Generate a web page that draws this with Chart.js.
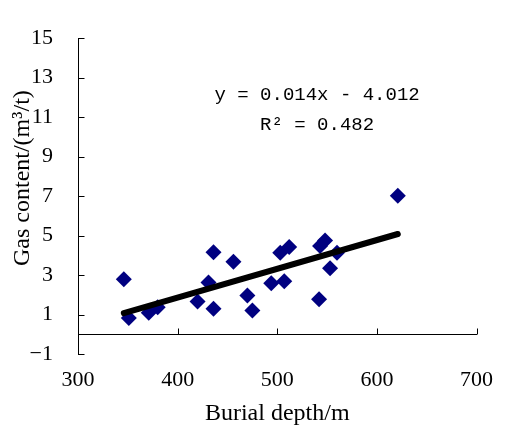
<!DOCTYPE html>
<html>
<head>
<meta charset="utf-8">
<script src="https://cdn.jsdelivr.net/npm/chart.js@4/dist/chart.umd.min.js"></script>
<style>
  html, body { margin: 0; padding: 0; background: #ffffff; }
  #wrap { width: 506px; height: 428px; }
</style>
</head>
<body>
<div id="wrap"><canvas id="c" width="506" height="428"></canvas></div>
<script>
// ---- data ----
const depth = [346, 351, 371, 380, 420, 431, 436, 436, 456, 470, 475, 494, 503, 507, 512, 542, 543, 548, 553, 560, 621];
const gas   = [2.79, 0.82, 1.09, 1.37, 1.66, 2.62, 4.15, 1.29, 3.68, 1.96, 1.20, 2.58, 4.13, 2.68, 4.42, 1.78, 4.47, 4.75, 3.35, 4.13, 7.02];
const trendDepth = [346, 621];
const trendGas   = [1.07, 5.08];
const xTicks = [300, 400, 500, 600, 700];
const yTicks = [-1, 1, 3, 5, 7, 9, 11, 13, 15];
const equationLines = ['y = 0.014x - 4.012', 'R\u00B2 = 0.482'];
const xTitle = 'Burial depth/m';
const yTitle = 'Gas content/(m\u00B3/t)';

// ---- layout / style ----
const eqAnchor = { x: 540, y: [12.1, 10.6] };   // text anchor in data units
const serif = 'Liberation Serif, Times New Roman, serif';

const axisDecor = {
  id: 'axisDecor',
  beforeDatasetsDraw(chart) {
    const { ctx, scales: { x, y } } = chart;
    ctx.save();
    ctx.strokeStyle = '#000';
    ctx.lineWidth = 1;
    const y0 = Math.round(y.getPixelForValue(0)) + 0.5;
    const xl = x.getPixelForValue(xTicks[0]);
    const xr = x.getPixelForValue(xTicks[xTicks.length - 1]);
    ctx.beginPath();
    ctx.moveTo(xl, y0); ctx.lineTo(xr + 0.5, y0);
    xTicks.slice(1).forEach(v => {
      const px = Math.round(x.getPixelForValue(v)) + 0.5;
      ctx.moveTo(px, y0); ctx.lineTo(px, y0 - 6);
    });
    const ax = Math.round(x.getPixelForValue(xTicks[0])) + 0.5;
    yTicks.forEach(v => {
      const py = Math.round(y.getPixelForValue(v)) + 0.5;
      ctx.moveTo(ax, py); ctx.lineTo(ax + 6, py);
    });
    ctx.stroke();
    ctx.restore();
  },
  afterDatasetsDraw(chart) {
    const { ctx, scales: { x, y } } = chart;
    ctx.save();
    ctx.fillStyle = '#000';
    ctx.font = '19px "Liberation Mono", monospace';
    ctx.textAlign = 'center';
    ctx.textBaseline = 'middle';
    equationLines.forEach((t, i) => {
      ctx.fillText(t, x.getPixelForValue(eqAnchor.x), y.getPixelForValue(eqAnchor.y[i]));
    });
    ctx.restore();
  }
};

new Chart(document.getElementById('c'), {
  type: 'scatter',
  data: {
    datasets: [
      {
        label: 'Samples',
        data: depth.map((d, i) => ({ x: d, y: gas[i] })),
        pointStyle: 'rectRot',
        pointRadius: 8,
        pointBackgroundColor: '#000080',
        pointBorderColor: '#000080',
        pointBorderWidth: 0,
        showLine: false,
        order: 2
      },
      {
        label: 'Trend',
        type: 'line',
        data: trendDepth.map((d, i) => ({ x: d, y: trendGas[i] })),
        borderColor: '#000',
        borderWidth: 6,
        borderCapStyle: 'round',
        pointRadius: 0,
        fill: false,
        order: 1
      }
    ]
  },
  options: {
    responsive: false,
    animation: false,
    devicePixelRatio: 1,
    layout: { padding: { left: 0, right: 19, top: 35, bottom: 0 } },
    plugins: { legend: { display: false }, tooltip: { enabled: false } },
    scales: {
      x: {
        type: 'linear',
        min: 300, max: 700,
        afterBuildTicks: s => { s.ticks = xTicks.map(v => ({ value: v })); },
        afterFit: s => { s.height = 74; },
        grid: { display: false, drawTicks: false },
        border: { display: false },
        ticks: { padding: 13, color: '#000', maxRotation: 0, font: { family: serif, size: 22 } },
        title: { display: true, text: xTitle, color: '#000', font: { family: serif, size: 24 }, padding: { top: 0, bottom: 0 } }
      },
      y: {
        type: 'linear',
        min: -1, max: 15,
        afterBuildTicks: s => { s.ticks = yTicks.map(v => ({ value: v })); },
        afterFit: s => { s.width = 78; },
        grid: { display: false, drawTicks: false },
        border: { display: true, color: '#000', width: 1 },
        ticks: { padding: 25, color: '#000', font: { family: serif, size: 22 },
                 callback: v => (v < 0 ? '\u2212' + Math.abs(v) : String(v)) },
        title: { display: true, text: '      ' + yTitle, color: '#000', font: { family: serif, size: 24 }, padding: { top: 8, bottom: 0 } }
      }
    }
  },
  plugins: [axisDecor]
});
</script>
</body>
</html>
